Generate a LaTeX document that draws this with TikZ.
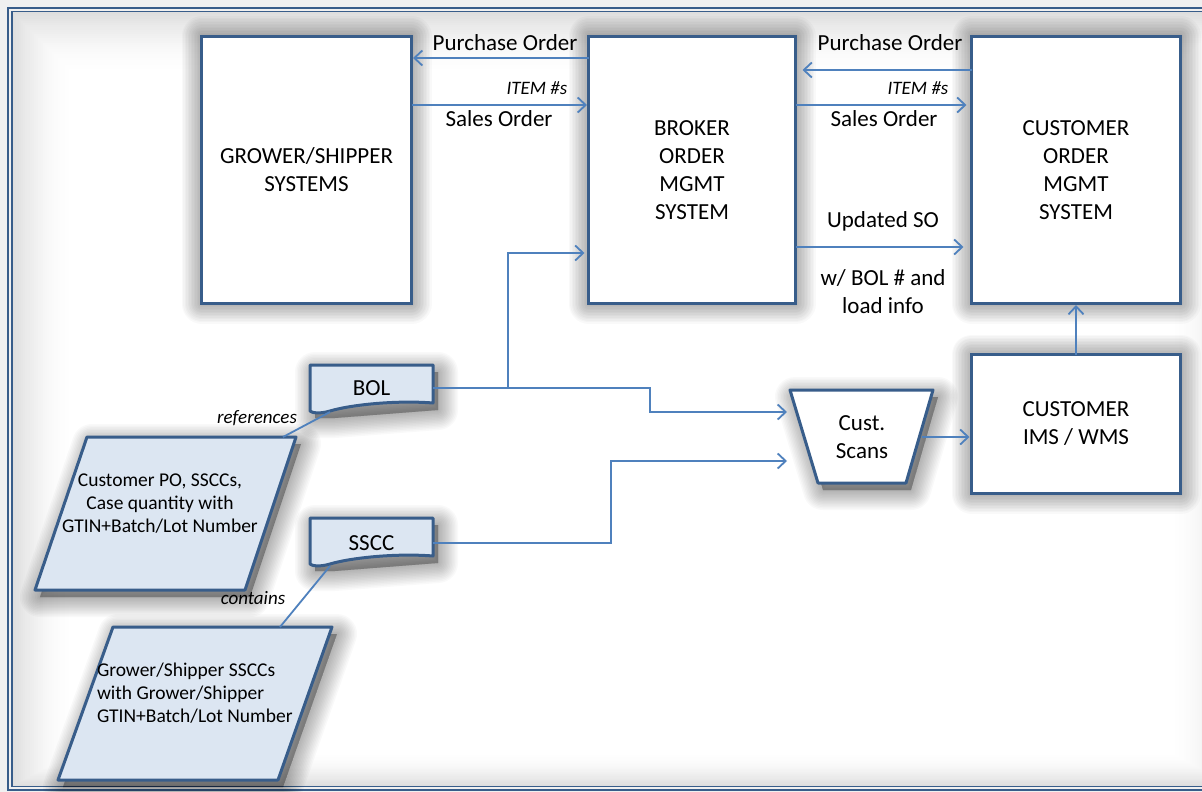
\documentclass[tikz,border=0pt]{standalone}
\usepackage{fontspec}
\setmainfont{Carlito}
\usetikzlibrary{arrows.meta,calc}
\definecolor{edgeblue}{RGB}{56,93,138}
\definecolor{linkblue}{RGB}{79,129,189}
\definecolor{paleblue}{RGB}{220,230,242}
\definecolor{pagegray}{RGB}{240,240,240}
\pgfdeclarelayer{panel}
\pgfdeclarelayer{shade}
\pgfsetlayers{panel,shade,main}

% soft drop shadow under a closed path, built from stacked translucent strokes
\newcommand\dropshade[1]{%
  \begin{pgfonlayer}{shade}
    \foreach \w in {40,37,...,1}{
      \path[shift={(5,7)},fill=black,draw=black,opacity=0.024,
            line width=\w pt,line join=round] #1;}
  \end{pgfonlayer}}

\begin{document}
\begin{tikzpicture}[x=1pt,y=-1pt,
  every node/.style={inner sep=0pt,outer sep=0pt},
  sysbox/.style={draw=edgeblue,line width=3pt,fill=white,
      align=center,font=\fontsize{23}{28}\selectfont},
  shapeline/.style={draw=edgeblue,line width=3pt,line join=round},
  bigtext/.style={font=\fontsize{23}{28}\selectfont,align=center},
  smalltext/.style={font=\fontsize{19.5}{23}\selectfont},
  tagtext/.style={font=\fontsize{19}{22}\selectfont\itshape},
  link/.style={draw=linkblue,line width=1.8pt,
      -{Straight Barb[length=8pt,width=15pt,line width=1.8pt]}},
  plainlink/.style={draw=linkblue,line width=1.8pt}
]
\useasboundingbox (0,0) rectangle (1202,792);

% page and framed panel
\begin{pgfonlayer}{panel}
\fill[pagegray] (0,0) rectangle (1202,792);
\foreach \i in {0,...,28}{
  \pgfmathsetmacro\g{13*(1-\i/28)^1.8}
  \fill[black!\g!white] (12+2.2*\i,12+2.2*\i) rectangle (1232-2.2*\i,786-1.2*\i);
}
\draw[edgeblue,line width=2.2pt] (8,8) rectangle (1240,790);
\draw[edgeblue,line width=1.4pt] (11.8,11.8) rectangle (1236,786.5);
\end{pgfonlayer}

% system boxes
\node[sysbox,minimum width=210pt,minimum height=267pt] (grower) at (306.5,170)
  {GROWER/SHIPPER\\SYSTEMS};
\node[sysbox,minimum width=207pt,minimum height=267pt] (broker) at (692,170)
  {BROKER\\ORDER\\MGMT\\SYSTEM};
\node[sysbox,minimum width=209pt,minimum height=267pt] (custorder) at (1076,170)
  {CUSTOMER\\ORDER\\MGMT\\SYSTEM};
\node[sysbox,minimum width=209pt,minimum height=139pt] (ims) at (1076,424)
  {CUSTOMER\\IMS / WMS};
\dropshade{(grower.north west) rectangle (grower.south east)}
\dropshade{(broker.north west) rectangle (broker.south east)}
\dropshade{(custorder.north west) rectangle (custorder.south east)}
\dropshade{(ims.north west) rectangle (ims.south east)}

% customer scans (trapezoid)
\path[shapeline,fill=white]
  (790,390) -- (933,390) -- (906,483) -- (818,483) -- cycle;
\dropshade{(790,390) -- (933,390) -- (906,483) -- (818,483) -- cycle}
\node[bigtext] (scans) at (862,437) {Cust.\\Scans};

% documents with a wavy lower edge
\path[shapeline,fill=paleblue]
  (310,365) -- (433,365) -- (433,403)
  .. controls (395,400) and (350,405) .. (330,411)
  .. controls (320,414) and (312,413) .. (310,411) -- cycle;
\dropshade{(310,365) -- (433,365) -- (433,403) -- (330,411) -- (310,411) -- cycle}
\node[bigtext,minimum width=123pt,minimum height=46pt] (bol) at (371.5,388) {BOL};
\path[shapeline,fill=paleblue]
  (310,518) -- (433,518) -- (433,556)
  .. controls (395,553) and (350,558) .. (330,564)
  .. controls (320,567) and (312,566) .. (310,564) -- cycle;
\dropshade{(310,518) -- (433,518) -- (433,556) -- (330,564) -- (310,564) -- cycle}
\node[bigtext,minimum width=123pt,minimum height=46pt] (sscc) at (371.5,543) {SSCC};

% data parallelograms
\path[shapeline,fill=paleblue]
  (87,437) -- (296,437) -- (245,590) -- (35,590) -- cycle;
\dropshade{(87,437) -- (296,437) -- (245,590) -- (35,590) -- cycle}
\node[smalltext,align=center] (podata) at (160,504)
  {Customer PO, SSCCs,\\Case quantity with\\GTIN+Batch/Lot Number};
\path[shapeline,fill=paleblue]
  (113,627) -- (332,627) -- (278,780) -- (58,780) -- cycle;
\dropshade{(113,627) -- (332,627) -- (278,780) -- (58,780) -- cycle}
\node[smalltext,align=left,anchor=west] (ssccdata) at (97,693)
  {Grower/Shipper SSCCs\\with Grower/Shipper\\GTIN+Batch/Lot Number};

% connector end points
\coordinate (bolfoot) at (330,412);
\coordinate (podatatop) at (283,437);
\coordinate (ssccfoot) at (330,566);
\coordinate (ssccdatatop) at (280,627);
\coordinate (bolsplit) at (508,388);
\coordinate (bolstep) at (650,388);
\coordinate (scansinA) at (787,412);
\coordinate (ssccstep) at (611,543);
\coordinate (scansinB) at (787,461);
\coordinate (scansout) at (922,437);

% order flows
\draw[link,shorten >=1.5pt] (broker.west |- 0,58) -- (grower.east |- 0,58);
\draw[link,shorten >=1.5pt] (grower.east |- 0,105) -- (broker.west |- 0,105);
\draw[link,shorten >=7pt] (custorder.west |- 0,70) -- (broker.east |- 0,70);
\draw[link,shorten >=5pt] (broker.east |- 0,105) -- (custorder.west |- 0,105);
\draw[link,shorten >=8pt] (broker.east |- 0,247) -- (custorder.west |- 0,247);
\draw[link,shorten >=1.5pt] (ims.north) -- (custorder.south);

% shipping document flows
\draw[plainlink] (bol.east) -- (bolsplit);
\draw[link,shorten >=4pt] (bolsplit) |- (broker.west |- 0,253);
\draw[link] (bolsplit) -- (bolstep) |- (scansinA);
\draw[link] (sscc.east) -- (ssccstep) |- (scansinB);
\draw[link,shorten >=2pt] (scansout) -- (ims.west |- scansout);
\draw[plainlink] (bolfoot) -- (podatatop);
\draw[plainlink] (ssccfoot) -- (ssccdatatop);

% labels
\node[bigtext] (lpo) at (505,43) {Purchase Order};
\node[tagtext] (litem) at (537,88) {ITEM \#s};
\node[bigtext] (lso) at (499,119) {Sales Order};
\node[bigtext] (rpo) at (890,43) {Purchase Order};
\node[tagtext] (ritem) at (918,88) {ITEM \#s};
\node[bigtext] (rso) at (884,119) {Sales Order};
\node[bigtext] (upd) at (883,221) {Updated SO};
\node[bigtext] (bolinfo) at (883,292) {w/ BOL \# and\\load info};
\node[tagtext] (refs) at (257,418) {references};
\node[tagtext] (cont) at (253,598) {contains};
\end{tikzpicture}
\end{document}
